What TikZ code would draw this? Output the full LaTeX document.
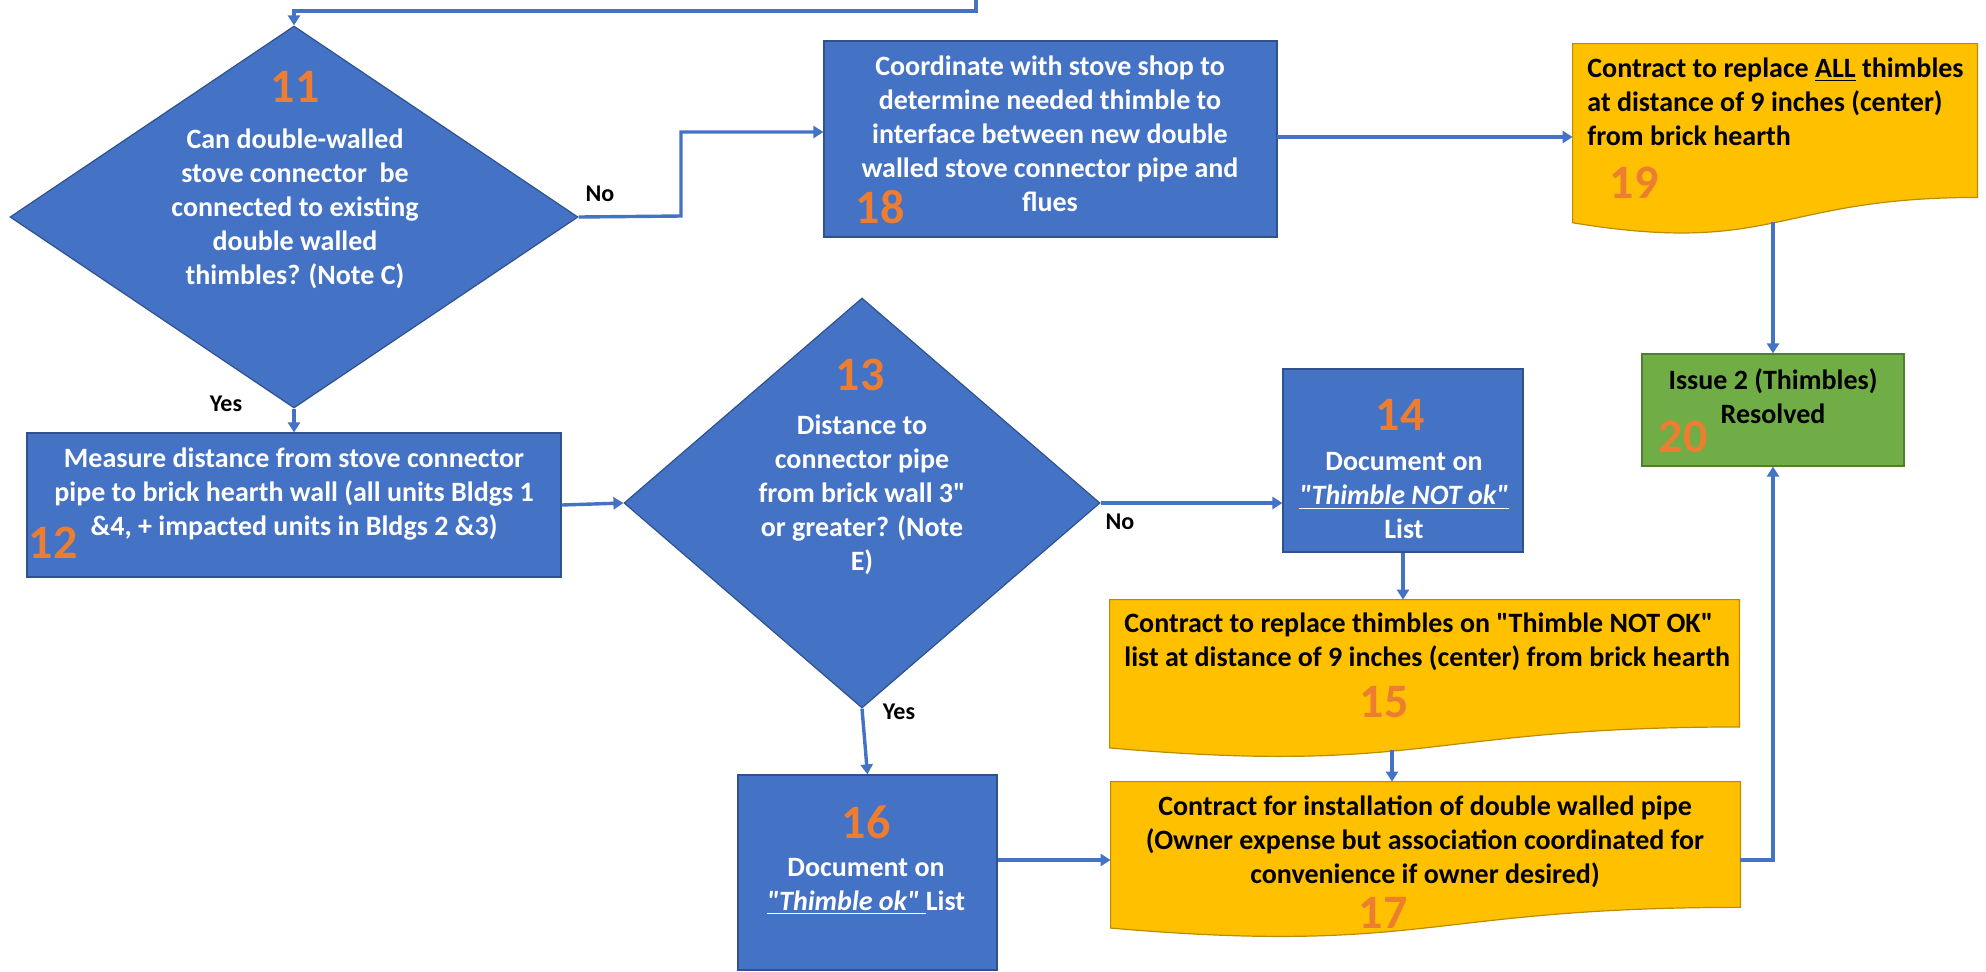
\documentclass[tikz,border=0pt]{standalone}
\usepackage{fontspec}
\setmainfont{Carlito}
\newfontfamily\carlq{Carlito}[Ligatures=TeXOff]
\usetikzlibrary{shapes.geometric,arrows.meta,calc}
\definecolor{cblue}{HTML}{4472C4}
\definecolor{cblueb}{HTML}{2F528F}
\definecolor{cyel}{HTML}{FFC000}
\definecolor{cyelb}{HTML}{BC8C00}
\definecolor{cgreen}{HTML}{70AD47}
\definecolor{cgreenb}{HTML}{507E32}
\definecolor{corange}{HTML}{ED7D31}
\newcommand{\qq}{{\carlq\symbol{34}}}
\begin{document}
\begin{tikzpicture}[x=0.5pt,y=-0.5pt,
  bluebox/.style={rectangle, fill=cblue, draw=cblueb, line width=0.6pt, inner sep=0pt},
  bluedia/.style={diamond, fill=cblue, draw=cblueb, line width=0.6pt, inner sep=0pt},
  docbox/.style={rectangle, draw=none, fill=none, inner sep=0pt},
  docfill/.style={fill=cyel, draw=cyelb, line width=0.6pt},
  greenbox/.style={rectangle, fill=cgreen, draw=cgreenb, line width=0.6pt, inner sep=0pt},
  wtxt/.style={text=white, font=\fontsize{14}{17}\selectfont\bfseries, align=center, inner sep=0pt},
  ktxt/.style={text=black, font=\fontsize{14}{17}\selectfont\bfseries, align=center, inner sep=0pt},
  num/.style={text=corange, font=\fontsize{24}{24}\selectfont\bfseries, inner sep=0pt},
  lbl/.style={text=black, font=\fontsize{12}{14}\selectfont\bfseries, inner sep=0pt},
  conn/.style={draw=cblue, line width=1.7pt, -{Triangle[length=5pt,width=6pt]}},
  plainline/.style={draw=cblue, line width=1.7pt}
]
\useasboundingbox (0,0) rectangle (1986,971);

% ---- shapes ----
\node[bluedia, minimum width=284pt, minimum height=191pt] (d11) at (294,217) {};
\node[bluebox, minimum width=267pt, minimum height=72pt] (b12) at (294,505) {};
\node[bluedia, minimum width=238pt, minimum height=205pt] (d13) at (862,503) {};
\node[bluebox, minimum width=120pt, minimum height=91.5pt] (b14) at (1403,460.5) {};
\node[docbox, minimum width=314.5pt, minimum height=79pt] (b15) at (1424.5,679) {};
\node[bluebox, minimum width=129.5pt, minimum height=97.5pt] (b16) at (867.5,872.5) {};
\node[docbox, minimum width=314.5pt, minimum height=78pt] (b17) at (1425.5,860) {};
\node[bluebox, minimum width=226.5pt, minimum height=98pt] (b18) at (1050.5,139) {};
\node[docbox, minimum width=202pt, minimum height=95.5pt] (b19) at (1775,139.5) {};
\node[greenbox, minimum width=131pt, minimum height=56pt] (b20) at (1773,410) {};

% document shapes
\draw[docfill] (b15.north west) -- (b15.north east) -- ($(b15.north east)!0.802!(b15.south east)$)
  .. controls ($(b15.north)!0.802!(b15.south)$) and ($(b15.north)!1.1075!(b15.south)$) .. ($(b15.north west)!0.934!(b15.south west)$) -- cycle;
\draw[docfill] (b17.north west) -- (b17.north east) -- ($(b17.north east)!0.802!(b17.south east)$)
  .. controls ($(b17.north)!0.802!(b17.south)$) and ($(b17.north)!1.1075!(b17.south)$) .. ($(b17.north west)!0.934!(b17.south west)$) -- cycle;
\draw[docfill] (b19.north west) -- (b19.north east) -- ($(b19.north east)!0.802!(b19.south east)$)
  .. controls ($(b19.north)!0.802!(b19.south)$) and ($(b19.north)!1.1075!(b19.south)$) .. ($(b19.north west)!0.934!(b19.south west)$) -- cycle;

% ---- texts ----
\node[num] (n11) at (295,87) {11};
\node[wtxt] (t11) at (295,208.5) {Can double-walled\\stove connector~ be\\connected to existing\\double walled\\thimbles? (Note C)};

\node[num] (n12) at (53,543) {12};
\node[wtxt] (t12) at (294,494) {Measure distance from stove connector\\pipe to brick hearth wall (all units Bldgs 1\\\&4, + impacted units in Bldgs 2 \&3)};

\node[num] (n13) at (860,375) {13};
\node[wtxt] (t13) at (862,494.5) {Distance to\\connector pipe\\from brick wall 3\qq\\or greater? (Note\\E)};

\node[num] (n14) at (1400,415) {14};
\node[wtxt] (t14) at (1404,496) {Document on\\\underline{\textit{\qq Thimble NOT ok\qq}}\\List};

\node[ktxt, align=left, anchor=west] (t15) at (1124,641.5) {Contract to replace thimbles on \qq Thimble NOT OK\qq\\list at distance of 9 inches (center) from brick hearth};
\node[num] (n15) at (1384,702) {15};

\node[num] (n16) at (866,822) {16};
\node[wtxt] (t16) at (866,886.5) {Document on\\\underline{\textit{\qq Thimble ok\qq}~}List};

\node[ktxt] (t17) at (1425,841.5) {Contract for installation of double walled pipe\\(Owner expense but association coordinated for\\convenience if owner desired)};
\node[num] (n17) at (1383,913) {17};

\node[wtxt] (t18) at (1050,133.5) {Coordinate with stove shop to\\determine needed thimble to\\interface between new double\\walled stove connector pipe and\\flues};
\node[num] (n18) at (880,207) {18};

\node[ktxt, align=left, anchor=west] (t19) at (1587,101.5) {Contract to replace \underline{ALL} thimbles\\at distance of 9 inches (center)\\from brick hearth};
\node[num] (n19) at (1634,183) {19};

\node[ktxt] (t20) at (1773,396.5) {Issue 2 (Thimbles)\\Resolved};
\node[num] (n20) at (1683,437) {20};

% ---- connector labels ----
\node[lbl] (l11no) at (600,194) {No};
\node[lbl] (l11yes) at (226,404) {Yes};
\node[lbl] (l13no) at (1120,522) {No};
\node[lbl] (l13yes) at (899,712) {Yes};

% ---- connectors ----
\coordinate (topin) at (976,0);
\coordinate (topbend) at (976,11);
\draw[conn] (topin) -- (topbend) -| (d11.north);
\coordinate (e11a) at (681,216);
\coordinate (e11b) at (681,132);
\draw[conn] (d11.east) -- (e11a) -- (e11b) -- (e11b -| b18.west);
\draw[conn] (d11.south) -- (b12.north);
\draw[conn] (b12.east) -- (d13.west);
\draw[conn] (d13.east) -- (d13.east -| b14.west);
\draw[conn] (b14.south) -- (b14.south |- b15.north);
\coordinate (b15s) at (1392,750);
\draw[conn] (b15s) -- (b15s |- b17.north);
\draw[conn] (d13.south) -- (b16.north);
\draw[conn] (b17.west -| b16.east) -- (b17.west);
\draw[conn] (b17.east) -| (b20.south);
\coordinate (e18) at (1277,137);
\draw[conn] (e18) -- (e18 -| b19.west);
\coordinate (b19s) at (1773,222);
\draw[conn] (b19s) -- (b20.north);
\end{tikzpicture}
\end{document}
